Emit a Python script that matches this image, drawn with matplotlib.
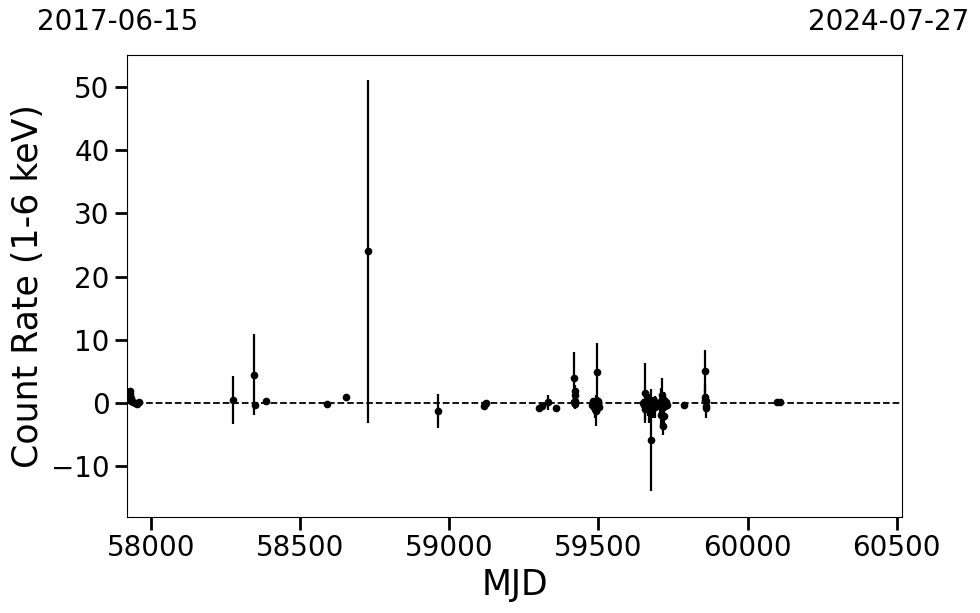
import matplotlib
matplotlib.use("Agg")
import matplotlib.pyplot as plt
import numpy as np

mjd = [57929, 57930, 57931, 57932, 57940, 57946, 57953, 57958,
       58274, 58346, 58347, 58384, 58589, 58652, 58726, 58961,
       59115, 59120, 59124, 59300, 59311, 59330, 59356,
       59417, 59419, 59420, 59421, 59422, 59423,
       59480, 59483, 59485, 59487, 59489, 59491, 59493, 59495, 59497, 59499, 59502,
       59648, 59652, 59655, 59657, 59660, 59663, 59666, 59669, 59672, 59675,
       59677, 59680, 59683, 59686, 59689, 59692, 59697,
       59706, 59709, 59711, 59713, 59715, 59717, 59719, 59721, 59724, 59727, 59730,
       59786, 59857, 59858, 59859, 59860, 59861, 59862, 60100, 60108]
rate = [1.9, 1.4, 0.8, 0.3, 0.1, 0.0, -0.1, 0.2,
        0.5, 4.5, -0.3, 0.3, -0.2, 1.0, 24.0, -1.2,
        -0.4, -0.2, 0.0, -0.8, -0.4, 0.1, -0.7,
        0.2, 4.0, 1.9, 1.2, 0.4, -0.1,
        -0.3, 0.3, -0.6, -1.0, 0.1, -0.4, -1.2, 4.9, -0.2, 0.4, -0.6,
        0.0, -0.3, -0.9, 1.6, -0.2, 0.2, -0.6, -1.0, 0.4, -5.8,
        -0.3, 0.1, -0.8, 0.3, -0.6, 0.0, -0.2,
        -0.5, 0.4, -1.9, 1.3, -3.7, -0.2, 0.5, -2.1, -0.4, 0.1, -0.3,
        -0.3, 0.5, 5.1, 1.0, 0.3, -0.5, -0.8, 0.2, 0.2]
err = [0.5, 0.4, 0.4, 0.3, 0.3, 0.2, 0.3, 0.3,
       3.8, 6.4, 0.4, 0.3, 0.2, 0.3, 27.1, 2.7,
       0.3, 0.3, 0.3, 0.4, 0.4, 1.2, 0.4,
       0.6, 4.1, 1.0, 0.8, 0.6, 0.8,
       0.8, 0.5, 1.0, 1.3, 0.7, 0.9, 2.5, 4.6, 0.8, 0.6, 1.0,
       0.6, 1.0, 1.8, 4.8, 0.8, 1.2, 1.4, 2.2, 1.0, 8.1,
       1.2, 0.8, 1.6, 0.7, 1.7, 0.9, 0.6,
       1.3, 2.0, 2.0, 2.6, 1.3, 1.5, 1.2, 1.6, 0.9, 0.7, 0.5,
       0.4, 1.5, 3.3, 2.0, 1.2, 1.9, 0.8, 0.2, 0.2]

xlim = (57919, 60518)
date_labels = ["2017-06-15", "2024-07-27"]
xticks = [58000, 58500, 59000, 59500, 60000, 60500]
yticks = [-10, 0, 10, 20, 30, 40, 50]

fig = plt.figure(figsize=(9.8, 6.13), dpi=100)
ax = fig.add_axes([127/980, 1 - 517/613, (902 - 127)/980, (517 - 55)/613])

ax.errorbar(mjd, rate, yerr=err, fmt='o', color='black', ms=4.5,
            elinewidth=1.6, capsize=0, zorder=3)
ax.axhline(0, color='black', ls='--', lw=1.3, zorder=2)

ax.set_xlim(*xlim)
ax.set_ylim(-18, 55)
ax.set_xticks(xticks)
ax.set_yticks(yticks)
ax.tick_params(axis='both', which='major', labelsize=20, length=9, width=2)
ax.set_xlabel("MJD", fontsize=25, labelpad=4)
ax.set_ylabel("Count Rate (1-6 keV)", fontsize=25)

fig.text(118/980, 1 - 22/613, date_labels[0], fontsize=20, ha='center', va='center')
fig.text(889/980, 1 - 22/613, date_labels[1], fontsize=20, ha='center', va='center')

fig.savefig("out.png", dpi=100)
